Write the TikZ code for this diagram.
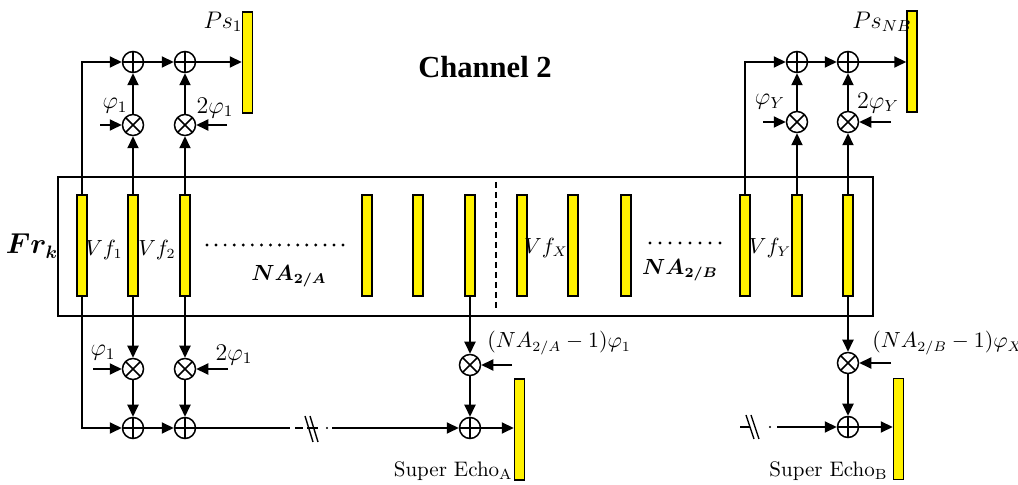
\documentclass[tikz,border=0pt]{standalone}
\usepackage{amsmath,bm}
\usepackage{fontspec}
\newfontfamily\tnr{Liberation Serif}
\usetikzlibrary{arrows.meta}
\tikzset{
  ln/.style={line width=1pt},
  arr/.style={line width=1pt,-{Triangle[length=6pt,width=5.5pt]}},
  bar/.style={draw,fill=yellow,line width=0.75pt,inner sep=0pt,minimum width=5pt,minimum height=50.5pt},
  sumop/.style={circle,draw,line width=0.75pt,inner sep=0pt,minimum size=10.5pt,
    path picture={\draw[line width=0.75pt] (path picture bounding box.north)--(path picture bounding box.south)
      (path picture bounding box.west)--(path picture bounding box.east);}},
  mulop/.style={circle,draw,line width=0.75pt,inner sep=0pt,minimum size=10.5pt,
    path picture={\draw[line width=0.75pt] (path picture bounding box.north west)--(path picture bounding box.south east)
      (path picture bounding box.north east)--(path picture bounding box.south west);}},
  lbl/.style={inner sep=0pt,font=\fontsize{10.5}{12}\selectfont},
  lblb/.style={inner sep=0pt,font=\fontsize{12}{14}\selectfont},
  brk/.style={line width=0.7pt},
}
\begin{document}
\begin{tikzpicture}[x=0.5pt,y=-0.5pt]
\useasboundingbox (0,0) rectangle (1018,485);
% frame
\draw[line width=0.75pt] (58,177) rectangle (873,316);
\draw[line width=0.6pt,dash pattern=on 3pt off 2pt] (496,182) -- (496,308);
% bars
\foreach \n/\x in {1/82,2/133,3/185,4/367,5/418,6/470,7/522,8/573,9/626,10/745,11/797,12/848}
  \node[bar] (v\n) at (\x,245.5) {};
\node[bar] (ps1) at (247.5,62.5) {};
\node[bar] (psnb) at (912,61.5) {};
\node[bar] (ea) at (519.5,429.5) {};
\node[bar] (eb) at (898.5,429) {};
% operators top-left
\node[sumop] (pa1) at (133,62) {};
\node[sumop] (pa2) at (185,62) {};
\node[mulop] (ma1) at (133,125) {};
\node[mulop] (ma2) at (185,125) {};
% operators top-right
\node[sumop] (pb1) at (797,62) {};
\node[sumop] (pb2) at (848,62) {};
\node[mulop] (mb1) at (797,122) {};
\node[mulop] (mb2) at (848,122) {};
% operators bottom
\node[mulop] (na1) at (133,369) {};
\node[mulop] (na2) at (185,369) {};
\node[sumop] (qa1) at (133,428) {};
\node[sumop] (qa2) at (185,428) {};
\node[mulop] (nA) at (470,365) {};
\node[sumop] (qA) at (470,428) {};
\node[mulop] (nB) at (848,363) {};
\node[sumop] (qB) at (848,427) {};
% free ends
\coordinate (ia1) at (100,125);
\coordinate (ia2) at (227,125);
\coordinate (ib1) at (763,122);
\coordinate (ib2) at (891,122);
\coordinate (ja1) at (93,369);
\coordinate (ja2) at (228,369);
\coordinate (jA) at (512,365);
\coordinate (jB) at (891,363);
% top-left connectors
\draw[arr] (v1.north) |- (pa1.west);
\draw[arr] (pa1) -- (pa2);
\draw[arr] (pa2) -- (pa2 -| ps1.west);
\draw[arr] (v2.north) -- (ma1);
\draw[arr] (ma1) -- (pa1);
\draw[arr] (v3.north) -- (ma2);
\draw[arr] (ma2) -- (pa2);
\draw[arr] (ia1) -- (ma1);
\draw[arr] (ia2) -- (ma2);
% top-right connectors
\draw[arr] (v10.north) |- (pb1.west);
\draw[arr] (pb1) -- (pb2);
\draw[arr] (pb2) -- (pb2 -| psnb.west);
\draw[arr] (v11.north) -- (mb1);
\draw[arr] (mb1) -- (pb1);
\draw[arr] (v12.north) -- (mb2);
\draw[arr] (mb2) -- (pb2);
\draw[arr] (ib1) -- (mb1);
\draw[arr] (ib2) -- (mb2);
% bottom-left connectors
\draw[arr] (v1.south) |- (qa1.west);
\draw[arr] (v2.south) -- (na1);
\draw[arr] (na1) -- (qa1);
\draw[arr] (v3.south) -- (na2);
\draw[arr] (na2) -- (qa2);
\draw[arr] (qa1) -- (qa2);
\draw[arr] (ja1) -- (na1);
\draw[arr] (ja2) -- (na2);
\coordinate (ka) at (290,428);
\coordinate (la) at (332,428);
\draw[ln] (qa2) -- (ka);
\draw[ln] (295,428) -- (303,428);
\draw[ln] (307,428) -- (318,428);
\draw[brk] (305,416) -- (313,442) (310,416) -- (318,442);
\fill (327,428) circle (0.6pt);
\draw[arr] (la) -- (qA);
\draw[arr] (v6.south) -- (nA);
\draw[arr] (nA) -- (qA);
\draw[arr] (jA) -- (nA);
\draw[arr] (qA) -- (qA -| ea.west);
% bottom-right connectors
\coordinate (lb) at (777,427);
\draw[ln] (740,427) -- (750,427);
\draw[brk] (746,415) -- (754,439) (751,415) -- (759,439);
\fill (770,427) circle (0.6pt);
\draw[arr] (lb) -- (qB);
\draw[arr] (v12.south) -- (nB);
\draw[arr] (nB) -- (qB);
\draw[arr] (jB) -- (nB);
\draw[arr] (qB) -- (qB -| eb.west);
% dots
\foreach \i in {0,...,15} \fill (207+9.07*\i,245) circle (0.8pt);
\foreach \i in {0,...,7} \fill (650+10*\i,243) circle (0.8pt);
% labels
\node[inner sep=0pt,font=\tnr\bfseries\fontsize{15.3}{18}\selectfont] (title) at (485,67) {Channel 2};
\node[inner sep=0pt,font=\fontsize{13.5}{15}\selectfont] (fr) at (32,246) {$\bm{Fr_k}$};
\node[lblb] (lps1) at (223,22) {$Ps_1$};
\node[lblb] (lpsnb) at (882,22) {$Ps_{NB}$};
\node[lblb] (lp1) at (115,106) {$\varphi_1$};
\node[lblb] (lp2) at (215,108) {$2\varphi_1$};
\node[lblb] (lpy1) at (770,102) {$\varphi_Y$};
\node[lblb] (lpy2) at (878,103) {$2\varphi_Y$};
\node[lblb] (lq1) at (103,353) {$\varphi_1$};
\node[lblb] (lq2) at (234,355) {$2\varphi_1$};
\node[lbl,anchor=west] (lqa) at (487,343) {$(NA_{2/A}-1)\varphi_1$};
\node[lbl,anchor=west] (lqb) at (872,343) {$(NA_{2/B}-1)\varphi_X$};
\node[lbl] (lv1) at (104,250) {$Vf_1$};
\node[lbl] (lv2) at (157,250) {$Vf_2$};
\node[lbl] (lvx) at (546,248) {$Vf_X$};
\node[lbl] (lvy) at (770,248) {$Vf_Y$};
\node[lbl] (lna) at (289,276) {$\bm{NA_{2/A}}$};
\node[lbl] (lnb) at (680,270) {$\bm{NA_{2/B}}$};
\node[lbl,anchor=east,font=\fontsize{10.5}{12}\selectfont] (lea) at (513,471) {Super Echo$_{\mathrm{A}}$};
\node[lbl,anchor=east,font=\fontsize{10.5}{12}\selectfont] (leb) at (888,471) {Super Echo$_{\mathrm{B}}$};
\end{tikzpicture}
\end{document}
